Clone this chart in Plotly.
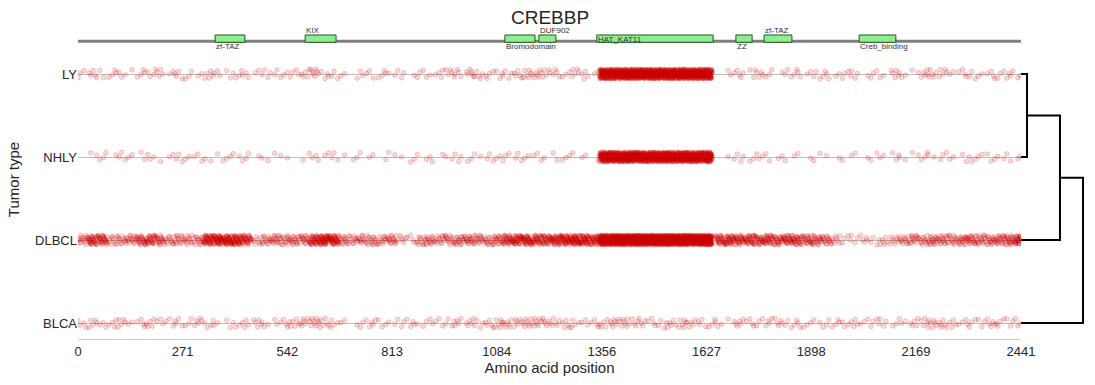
import plotly.graph_objects as go

# ---------------- data ----------------
gene_name = "CREBBP"
protein_length = 2441
bin_width = 25  # mutation counts are given per 25-aa window
x_tick_values = [0, 271, 542, 813, 1084, 1356, 1627, 1898, 2169, 2441]

tumor_types = ["BLCA", "DLBCL", "NHLY", "LY"]  # bottom -> top

domain_names = ["zf-TAZ", "KIX", "Bromodomain", "DUF902", "HAT_KAT11", "ZZ", "zf-TAZ", "Creb_binding"]
domain_starts = [355, 588, 1105, 1193, 1343, 1703, 1776, 2022]
domain_ends = [432, 668, 1183, 1237, 1644, 1745, 1848, 2117]

# mutation counts per 25-aa window (98 windows)
ly_counts = [
    3, 5, 2, 4, 3, 1, 4, 3, 5, 2,
    4, 3, 2, 5, 3, 2, 4, 3, 2, 4,
    3, 2, 4, 5, 7, 4, 3, 2, 1, 3,
    2, 4, 2, 3, 1, 3, 2, 4, 5, 4,
    6, 5, 4, 3, 4, 5, 6, 7, 5, 4,
    3, 5, 4, 2, 80, 80, 80, 80, 80, 80,
    80, 80, 80, 80, 80, 60, 0, 3, 4, 2,
    5, 3, 1, 3, 4, 2, 3, 4, 2, 4,
    3, 1, 3, 2, 5, 3, 2, 4, 6, 5,
    2, 4, 3, 2, 4, 3, 4, 2,
]
nhly_counts = [
    0, 2, 3, 1, 3, 2, 2, 3, 1, 2,
    3, 2, 3, 2, 1, 3, 2, 3, 1, 2,
    2, 1, 0, 2, 3, 2, 3, 1, 2, 1,
    2, 1, 2, 1, 2, 1, 3, 1, 2, 3,
    2, 2, 3, 2, 3, 3, 2, 3, 1, 2,
    3, 1, 2, 1, 80, 80, 80, 80, 80, 80,
    80, 80, 80, 80, 80, 60, 0, 2, 3, 2,
    3, 2, 2, 1, 2, 1, 2, 1, 1, 1,
    2, 1, 2, 2, 3, 2, 2, 3, 2, 3,
    2, 2, 3, 2, 3, 2, 2, 2,
]
dlbcl_counts = [
    14, 30, 28, 10, 12, 14, 24, 26, 20, 12,
    14, 12, 14, 40, 45, 45, 40, 30, 8, 14,
    16, 14, 16, 18, 35, 45, 40, 14, 12, 14,
    14, 12, 16, 6, 4, 12, 14, 12, 14, 16,
    18, 16, 14, 18, 30, 34, 36, 32, 30, 34,
    40, 45, 40, 34, 100, 100, 100, 100, 100, 100,
    100, 100, 100, 100, 100, 80, 30, 32, 28, 30,
    26, 28, 24, 28, 26, 22, 20, 16, 8, 4,
    3, 5, 4, 6, 8, 12, 14, 12, 18, 16,
    14, 18, 20, 16, 18, 20, 22, 24,
]
blca_counts = [
    4, 5, 3, 4, 5, 2, 4, 5, 3, 3,
    4, 3, 5, 4, 2, 2, 3, 4, 5, 3,
    3, 4, 5, 7, 8, 6, 4, 2, 1, 3,
    4, 3, 2, 3, 4, 2, 3, 3, 4, 4,
    5, 4, 5, 6, 7, 6, 7, 8, 6, 5,
    5, 4, 3, 4, 5, 7, 7, 5, 4, 4,
    4, 5, 6, 5, 4, 3, 3, 2, 5, 4,
    3, 4, 5, 3, 4, 3, 2, 3, 4, 3,
    4, 3, 4, 3, 2, 3, 5, 4, 7, 6,
    4, 3, 4, 3, 5, 4, 3, 3,
]
counts_by_type = {"BLCA": blca_counts, "DLBCL": dlbcl_counts, "NHLY": nhly_counts, "LY": ly_counts}

# hierarchical clustering of tumor types: (left, right, height)
merges = [("LY", "NHLY", 0.094), ("c1", "DLBCL", 0.609), ("c2", "BLCA", 0.969)]

# ---------------- styling ----------------
FONT = "Liberation Sans, Arial, sans-serif"
TXT = "#262626"
RED_FILL = "rgba(205,0,0,0.15)"
RED_EDGE = "rgba(205,0,0,0.26)"
JITTER = 0.058
label_side = ["below", "above", "below", "above", "inside", "below", "above", "below"]
TRACK_Y = 3.394
BOX_TOP, BOX_BOT = 3.470, 3.382
Y_RANGE = [-0.1928, 3.6506]

fig = go.Figure()

g = 0
for yi, t in enumerate(tumor_types):
    xs, ys = [], []
    for i, n in enumerate(counts_by_type[t]):
        s = i * bin_width
        e = min(s + bin_width, protein_length)
        if i == 65 and n > 40:
            e = s + 0.65 * bin_width  # hotspot block ends before the window end
        for k in range(n):
            f = (k * 0.6180339887 + i * 0.3183) % 1.0
            xs.append(s + (e - s) * f)
            g += 1
            ys.append(yi + ((g * 0.7548776662) % 1.0 - 0.5) * 2 * JITTER)
    fig.add_trace(go.Scatter(
        x=xs, y=ys, mode="markers", name=t, showlegend=False, hoverinfo="x+name",
        marker=dict(size=4.6, color=RED_FILL, line=dict(color=RED_EDGE, width=0.7)),
        xaxis="x", yaxis="y",
    ))

# protein backbone and domains
fig.add_shape(type="line", xref="x", yref="y", x0=0, x1=protein_length, y0=TRACK_Y, y1=TRACK_Y,
              line=dict(color="#808080", width=3), layer="above")
for name, s, e, side in zip(domain_names, domain_starts, domain_ends, label_side):
    fig.add_shape(type="rect", xref="x", yref="y", x0=s, x1=e, y0=BOX_BOT, y1=BOX_TOP,
                  fillcolor="#90ee90", line=dict(color="#1e5a1e", width=1), layer="above")
    ly = {"below": 3.331, "above": 3.528, "inside": 3.420}[side]
    fig.add_annotation(x=s, y=ly, xref="x", yref="y", text=name, showarrow=False,
                       xanchor="left", yanchor="middle", xshift=-1,
                       font=dict(size=8, color="#333333", family=FONT))

# title
fig.add_annotation(x=protein_length / 2, y=1.0063, xref="x", yref="paper", text=gene_name,
                   showarrow=False, xanchor="center", yanchor="middle",
                   font=dict(size=19, color=TXT, family=FONT))

# dendrogram
ypos = {t: i for i, t in enumerate(tumor_types)}
xpos = {t: 0.0 for t in tumor_types}
for ci, (a, b, h) in enumerate(merges):
    fig.add_trace(go.Scatter(
        x=[xpos[a], h, h, xpos[b]], y=[ypos[a], ypos[a], ypos[b], ypos[b]],
        mode="lines", line=dict(color="black", width=2), showlegend=False, hoverinfo="skip",
        xaxis="x2", yaxis="y2",
    ))
    key = "c%d" % (ci + 1)
    ypos[key] = (ypos[a] + ypos[b]) / 2
    xpos[key] = h

x_end = 943 / 1007
fig.update_layout(
    width=1095, height=385, autosize=False,
    margin=dict(l=78, r=10, t=20, b=46, pad=0),
    paper_bgcolor="white", plot_bgcolor="white",
    xaxis=dict(domain=[0, x_end], range=[0, protein_length], tickvals=x_tick_values,
               ticktext=[str(v) for v in x_tick_values], ticks="", showgrid=False, zeroline=False,
               showline=True, linecolor="#cccccc", linewidth=1, automargin=False,
               tickfont=dict(size=13, color=TXT, family=FONT),
               title=dict(text="Amino acid position", font=dict(size=15, color=TXT, family=FONT), standoff=3)),
    yaxis=dict(range=Y_RANGE, tickvals=list(range(len(tumor_types))), ticktext=tumor_types,
               ticks="", showgrid=True, gridcolor="#bdbdbd", gridwidth=1, zeroline=False, showline=False,
               automargin=False,
               tickfont=dict(size=13, color=TXT, family=FONT),
               title=dict(text="Tumor type", font=dict(size=15, color=TXT, family=FONT), standoff=11)),
    xaxis2=dict(domain=[x_end, 1], range=[0, 1], visible=False, anchor="y2"),
    yaxis2=dict(range=Y_RANGE, visible=False, anchor="x2"),
)

post = ("document.body.style.margin='0px';document.body.style.padding='0px';"
        "var gd=document.getElementById('{plot_id}');"
        "Plotly.relayout(gd,{width:1095,height:385});")
fig.write_html("out.html", default_width="1095px", default_height="385px",
               config={"responsive": False, "displayModeBar": False}, post_script=post)
